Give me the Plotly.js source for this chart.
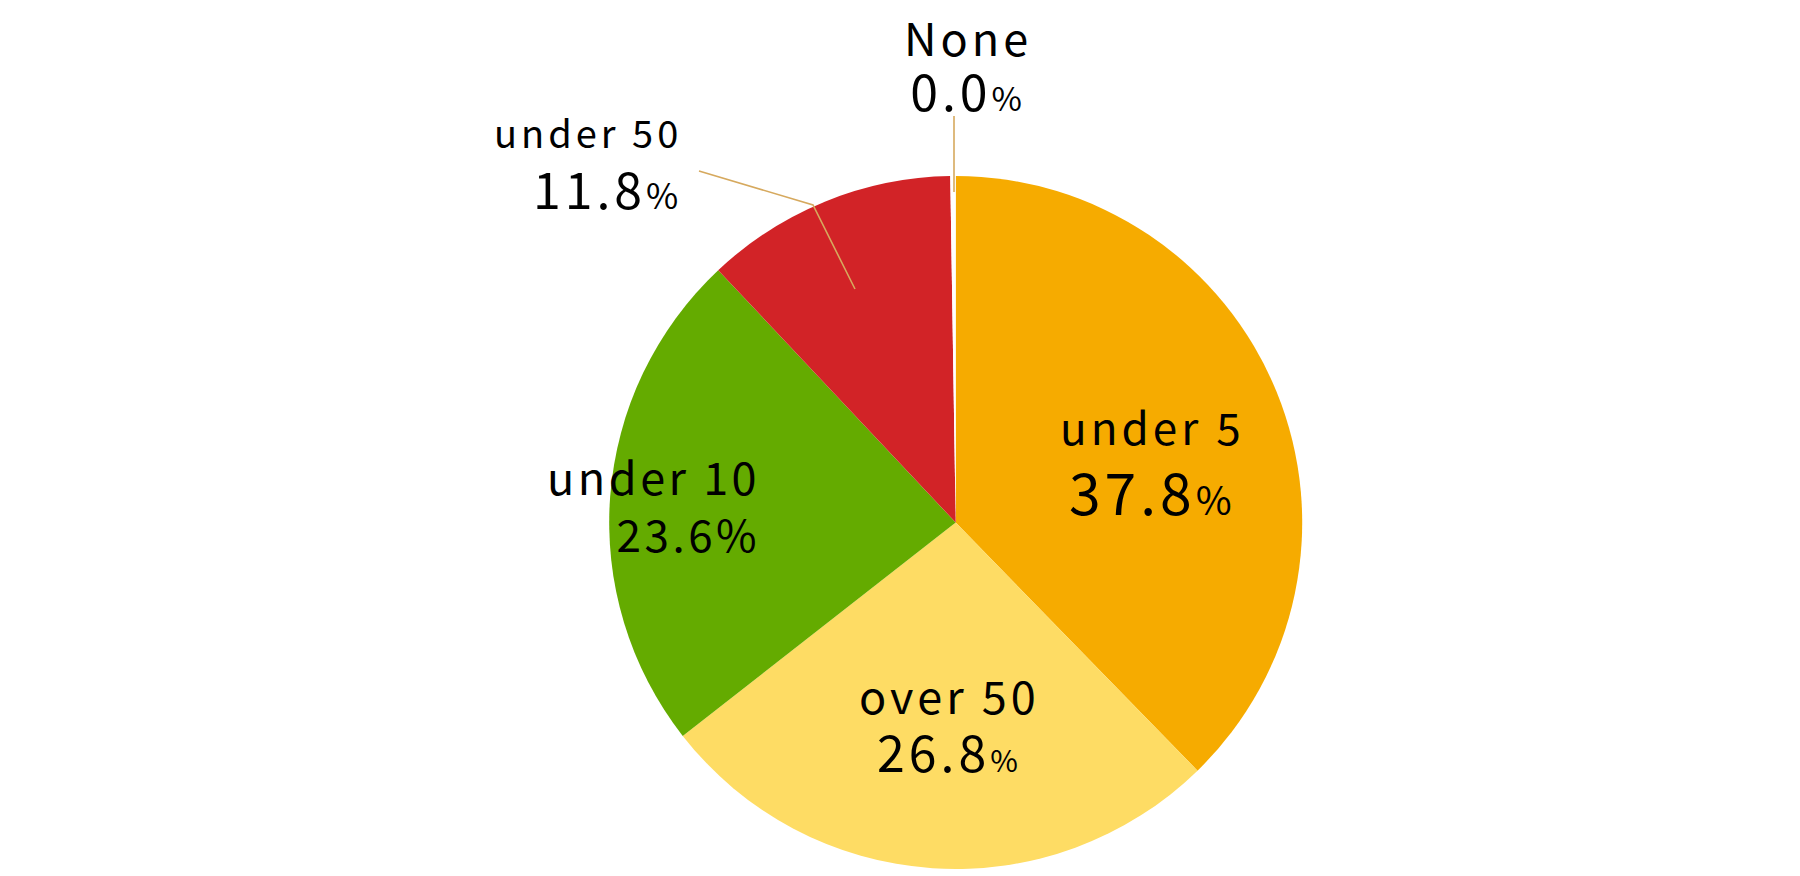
<!DOCTYPE html>
<html>
<head>
<meta charset="utf-8">
<script src="https://cdn.plot.ly/plotly-3.0.1.min.js"></script>
<style>
html,body{margin:0;padding:0;background:#fff;}
#chart{width:1800px;height:876px;}
</style>
</head>
<body>
<div id="chart"></div>
<script>
// ---- data ----
const labels = ['under 5', 'over 50', 'under 10', 'under 50', 'None'];
const percents = [37.8, 26.8, 23.6, 11.8, 0.0];
// drawn slice sizes (None is a hair-thin sliver in the picture)
const sliceValues = [37.8, 26.8, 23.6, 11.8, 0.25];
const colors = ['#F6AB00', '#FEDC64', '#64AB00', '#D22327', '#FFFFFF'];

// ---- label styling (per slice, same order) ----
const W = 1800, H = 876;
const FONT = '"Noto Sans CJK JP", "Noto Sans", sans-serif';
const labelStyle = [
  {x: 1150, y: 462, gap: 70, nameSize: 44, pctSize: 57, signSize: 39, anchor: 'center', ls: 4},
  {x: 947,  y: 724, gap: 58, nameSize: 45, pctSize: 50, signSize: 30, anchor: 'center', ls: 4},
  {x: 758,  y: 504, gap: 57, nameSize: 45, pctSize: 44, signSize: 44, anchor: 'right', ls: 3.5},
  {x: 680,  y: 164, gap: 61, nameSize: 38, pctSize: 50, signSize: 35, anchor: 'right', ls: 4},
  {x: 966,  y: 64,  gap: 55, nameSize: 45, pctSize: 50, signSize: 33, anchor: 'center', ls: 4}
];
const leaderColor = '#D6A95E';

const px = v => v / W;
const py = v => 1 - v / H;

const annotations = labels.map((lab, i) => {
  const s = labelStyle[i];
  const st = 'letter-spacing:' + s.ls + 'px';
  const xShift = s.anchor === 'right' ? s.ls : s.ls / 2;
  return {
    xref: 'paper', yref: 'paper', x: px(s.x + xShift), y: py(s.y),
    xanchor: s.anchor, yanchor: 'middle', align: s.anchor, showarrow: false,
    text: '<span style="' + st + ';font-size:' + s.nameSize + 'px">' + lab + '</span><br>' +
          '<span style="' + st + ';font-size:' + s.pctSize + 'px">' + percents[i].toFixed(1) +
          '<span style="font-size:' + s.signSize + 'px">%</span></span>',
    font: {family: FONT, size: s.gap / 1.3, color: '#000'}
  };
});

const shapes = [
  {type: 'path', xref: 'paper', yref: 'paper',
   path: 'M ' + px(699) + ' ' + py(171) + ' L ' + px(813) + ' ' + py(205) + ' L ' + px(855) + ' ' + py(289),
   line: {color: leaderColor, width: 1.6}},
  {type: 'line', xref: 'paper', yref: 'paper',
   x0: px(954), y0: py(116), x1: px(954), y1: py(192),
   line: {color: leaderColor, width: 1.6}}
];

const trace = {
  type: 'pie',
  labels: labels,
  values: sliceValues,
  sort: false,
  direction: 'clockwise',
  rotation: 0,
  marker: {colors: colors, line: {width: 0}},
  textinfo: 'none',
  hoverinfo: 'label+text',
  text: percents.map(p => p.toFixed(1) + '%'),
  showlegend: false,
  domain: {x: [px(609.2), px(1302.2)], y: [1 - 869 / H, 1 - 176 / H]}
};

Plotly.newPlot('chart', [trace], {
  width: W, height: H,
  margin: {l: 0, r: 0, t: 0, b: 0},
  paper_bgcolor: '#fff',
  showlegend: false,
  annotations: annotations,
  shapes: shapes
}, {displayModeBar: false, staticPlot: true});
</script>
</body>
</html>
